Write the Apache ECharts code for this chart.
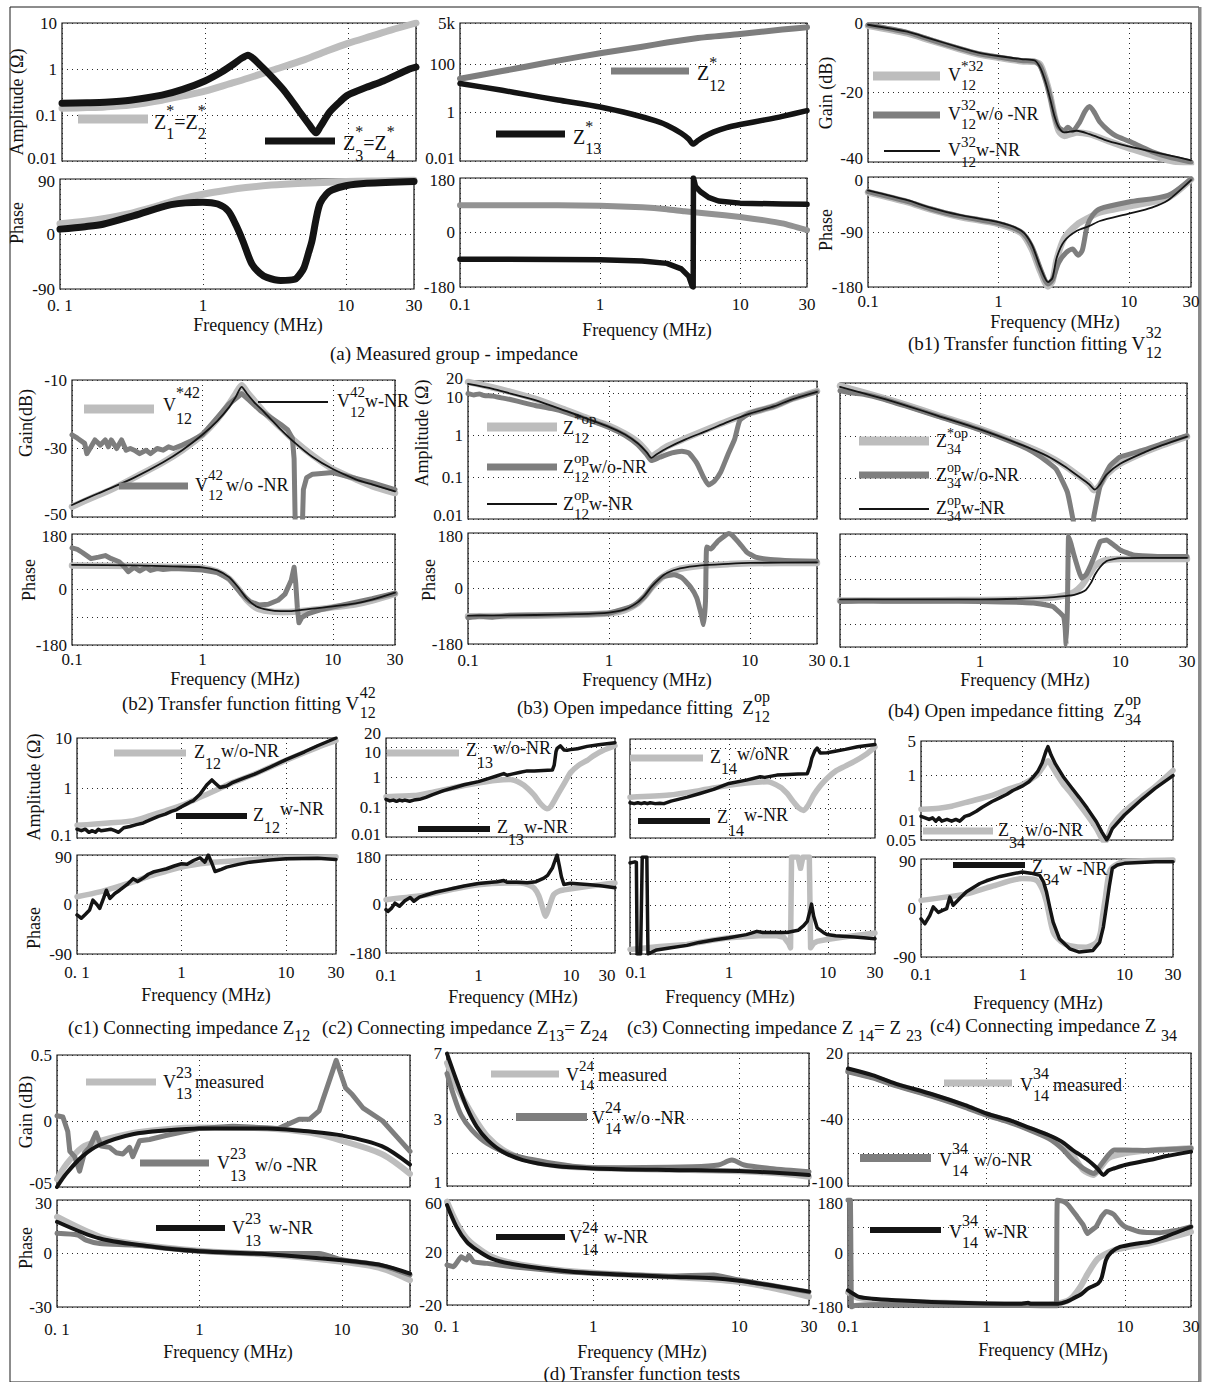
<!DOCTYPE html>
<html>
<head>
<meta charset="utf-8">
<title>Impedance and transfer function fitting</title>
<script src="https://cdn.jsdelivr.net/npm/echarts@6.0.0/dist/echarts.min.js"></script>
<style>
html,body{margin:0;padding:0;background:#fff;}
#chart{width:1209px;height:1382px;}
</style>
</head>
<body>
<div id="chart"></div>
<script>
// ================= tick labels =================
const X_TICKS = [0.1, 1, 10, 30];
const X_LAB_SPACED = ['0. 1', '1', '10', '30'];
const X_LAB = ['0.1', '1', '10', '30'];
const YL_aLa = [[0.01,'0.01'],[0.1,'0.1'],[1,'1'],[10,'10']];
const YL_aRa = [[0.01,'0.01'],[1,'1'],[100,'100'],[5000,'5k']];
const YL_90 = [[-90,'-90'],[0,'0'],[90,'90']];
const YL_180 = [[-180,'-180'],[0,'0'],[180,'180']];
const YL_b1g = [[-40,'-40'],[-20,'-20'],[0,'0']];
const YL_b1p = [[-180,'-180'],[-90,'-90'],[0,'0']];
const YL_b2g = [[-50,'-50'],[-30,'-30'],[-10,'-10']];
const YL_20d = [[0.01,'0.01'],[0.1,'0.1'],[1,'1'],[10,'10'],[20,'20']];
const YL_c1a = [[0.1,'0.1'],[1,'1'],[10,'10']];
const YL_c4a = [[0.05,'0.05'],[0.1,'01'],[1,'1'],[5,'5']];
const YL_d1g = [[-0.5,'-05'],[0,'0'],[0.5,'0.5']];
const YL_d1p = [[-30,'-30'],[0,'0'],[30,'30']];
const YL_d2g = [[-1,'1'],[3,'3'],[7,'7']];
const YL_d2p = [[-20,'-20'],[20,'20'],[60,'60']];
const YL_d3g = [[-100,'-100'],[-40,'-40'],[20,'20']];

// ================= data: [frequency MHz, value] =================
// (a) measured group - impedance
const aL_amp_Z12 = [[0.1,0.14],[0.15,0.145],[0.2,0.15],[0.3,0.165],[0.5,0.21],[0.7,0.26],[1,0.33],[1.5,0.48],[2,0.63],[3,0.95],[5,1.6],[7,2.4],[10,3.6],[15,5.3],[20,7],[30,10]];
const aL_amp_Z34 = [[0.1,0.18],[0.15,0.185],[0.2,0.19],[0.3,0.21],[0.5,0.27],[0.7,0.36],[1,0.55],[1.3,0.85],[1.6,1.3],[1.8,1.7],[2,2.0],[2.45,1.19],[3.04,0.6],[3.7,0.3],[4.6,0.118],[5.4,0.06],[6.0,0.041],[6.4,0.055],[7.5,0.118],[8.9,0.2],[10,0.27],[13.5,0.4],[17.7,0.55],[27,1.0],[30,1.1]];
const aL_ph_Z12 = [[0.1,17],[0.15,21],[0.2,25],[0.3,33],[0.5,47],[0.7,57],[1,65],[1.5,72],[2,76],[3,80],[5,83],[10,86],[20,87],[30,88]];
const aL_ph_Z34 = [[0.1,8],[0.15,12],[0.2,16],[0.33,30],[0.6,48],[1,52],[1.27,49],[1.5,38],[1.7,15],[1.9,-11],[2.2,-49],[2.5,-64],[2.8,-71],[3.5,-76],[4.4,-74],[4.8,-65],[5.1,-55],[5.5,-30],[5.8,-11],[6.2,25],[6.6,50],[7.3,65],[8,72],[10,79],[14,83],[30,86]];
const aR_amp_Z12 = [[0.1,25],[0.2,52],[0.3,80],[0.5,140],[1,280],[2,520],[3,780],[5,1200],[10,1750],[20,2700],[30,3300]];
const aR_amp_Z13 = [[0.1,16],[0.2,8.3],[0.3,5.5],[0.5,3.3],[1,1.7],[1.7,0.85],[2.5,0.45],[3,0.3],[3.8,0.14],[4.3,0.08],[4.6,0.05],[5,0.07],[5.5,0.1],[6.5,0.16],[8,0.24],[10,0.32],[15,0.5],[20,0.7],[30,1.2]];
const aR_ph_Z12 = [[0.1,90],[0.5,90],[1,88],[2,83],[3,77],[4,70],[6,62],[10,51],[15,40],[20,30],[30,8]];
const aR_ph_Z13 = [[0.1,-88],[0.5,-89],[1,-90],[2,-94],[3,-102],[3.8,-120],[4.3,-145],[4.55,-178],[4.62,-180],[4.64,180],[4.8,152],[5.2,135],[6,115],[7,104],[10,97],[20,94],[30,93]];
// (b1) V32_12
const b1_g_meas = [[0.1,-0.8],[0.2,-3],[0.3,-5],[0.5,-7.5],[0.7,-9],[1,-10],[1.5,-11],[1.9,-11.2],[2.1,-12],[2.3,-16],[2.5,-21],[2.7,-27],[2.9,-31],[3.2,-32.5],[4,-31.5],[5,-32],[7,-34],[10,-36],[15,-38],[20,-39.5],[30,-40.5]];
const b1_g_wo = [[0.1,-0.6],[0.2,-2.7],[0.3,-4.8],[0.5,-7.3],[0.7,-8.8],[1,-9.8],[1.5,-10.8],[1.9,-11],[2.1,-12.5],[2.3,-16.5],[2.5,-21.5],[2.7,-27],[2.9,-30],[3.2,-31],[3.4,-30],[3.7,-31],[4.2,-28.5],[4.6,-25.5],[5,-24],[5.5,-26],[6,-28.5],[7,-31],[8,-32.5],[10,-34],[15,-37],[20,-38.5],[30,-40]];
const b1_g_w = [[0.1,-0.5],[0.2,-2.5],[0.3,-4.5],[0.5,-7],[0.7,-8.5],[1,-9.5],[1.5,-10.4],[1.9,-10.8],[2.1,-13],[2.3,-17],[2.5,-22],[2.7,-27],[2.9,-30],[3.2,-31.5],[4,-31],[5,-32],[7,-34],[10,-35.5],[15,-37],[20,-38],[30,-39.5]];
const b1_p_meas = [[0.1,-25],[0.2,-41],[0.3,-53],[0.5,-65],[1,-77],[1.5,-92],[1.8,-118],[2.1,-155],[2.4,-179],[2.6,-170],[2.8,-135],[3.2,-100],[4,-78],[5,-66],[6,-58],[10,-48],[20,-34],[30,-4]];
const b1_p_wo = [[0.1,-24],[0.2,-40],[0.3,-52],[0.5,-64],[1,-76],[1.5,-90],[1.8,-113],[2.1,-150],[2.4,-175],[2.6,-168],[2.9,-140],[3.3,-124],[3.7,-118],[4.1,-128],[4.4,-120],[4.8,-80],[5.3,-62],[6,-52],[10,-41],[20,-30],[30,-3]];
const b1_p_w = [[0.1,-22],[0.2,-38],[0.3,-50],[0.5,-62],[1,-74],[1.5,-88],[1.8,-110],[2.1,-148],[2.4,-172],[2.6,-165],[2.8,-132],[3.2,-105],[4,-88],[5,-80],[6,-72],[10,-60],[15,-50],[20,-38],[30,-5]];
// (b2) V42_12
const b2_g_meas = [[0.1,-47],[0.15,-44],[0.2,-42],[0.3,-38.5],[0.5,-34],[0.7,-30.5],[1,-26],[1.3,-21.5],[1.6,-17],[1.8,-14],[2,-11.5],[2.2,-13.5],[2.5,-16],[3,-19.5],[4,-24],[5,-27.5],[7,-32],[10,-36],[15,-39],[20,-41],[30,-43]];
const b2_g_wo = [[0.1,-26],[0.11,-27],[0.125,-28.5],[0.13,-31.5],[0.14,-29.5],[0.15,-27.5],[0.165,-29],[0.18,-27.5],[0.19,-29.5],[0.2,-27.5],[0.22,-30],[0.24,-27.5],[0.26,-30.5],[0.28,-30],[0.3,-30.5],[0.33,-31.5],[0.37,-30.5],[0.4,-31.5],[0.45,-30],[0.5,-30.5],[0.55,-29.5],[0.6,-30],[0.7,-29],[0.8,-28],[1,-26],[1.3,-21],[1.6,-17],[2,-14],[2.3,-16],[2.8,-19],[3.5,-21.5],[4,-23],[4.5,-24.5],[4.9,-27],[5.05,-33],[5.15,-52],[5.85,-52],[5.95,-42],[6.3,-38.5],[7,-37.5],[10,-37],[20,-40],[30,-42]];
const b2_g_w = [[0.1,-46.5],[0.15,-43.5],[0.2,-41.5],[0.3,-38.5],[0.5,-34],[0.7,-30.5],[1,-26],[1.3,-22],[1.6,-18],[1.8,-15],[2,-12],[2.2,-14],[2.5,-16.5],[3,-19.5],[4,-24.5],[5,-28],[7,-32.5],[10,-36],[15,-39],[20,-40.5],[30,-42.5]];
const b2_p_meas = [[0.1,78],[0.3,76],[0.6,73],[1,70],[1.3,58],[1.6,35],[1.9,0],[2.2,-35],[2.6,-60],[3.2,-70],[4,-73],[5,-72],[7,-66],[10,-58],[15,-48],[20,-36],[30,-14]];
const b2_p_wo = [[0.1,135],[0.11,130],[0.12,120],[0.14,100],[0.16,105],[0.18,110],[0.2,100],[0.23,90],[0.25,75],[0.27,58],[0.3,72],[0.33,60],[0.37,72],[0.4,62],[0.45,68],[0.5,65],[0.6,68],[0.8,66],[1,63],[1.3,55],[1.6,35],[2,-15],[2.3,-38],[2.7,-50],[3.2,-48],[3.8,-35],[4.3,-15],[4.8,30],[5.05,72],[5.2,20],[5.35,-60],[5.5,-108],[5.8,-90],[6.5,-78],[8,-66],[10,-57],[20,-30],[30,-12]];
const b2_p_w = [[0.1,80],[0.3,78],[0.6,75],[1,72],[1.3,62],[1.6,40],[1.9,5],[2.2,-30],[2.6,-55],[3.2,-66],[4,-70],[5,-69],[7,-62],[10,-55],[15,-45],[20,-33],[30,-10]];
// (b3) Zop_12
const b3_a_meas = [[0.1,19],[0.15,14],[0.2,11],[0.3,7.5],[0.5,4],[0.7,2.6],[1,1.7],[1.3,1.1],[1.6,0.7],[1.85,0.42],[2,0.31],[2.2,0.38],[2.6,0.55],[3.5,0.85],[5,1.4],[7,2.2],[10,3.4],[15,5],[20,7.5],[30,11.5]];
const b3_a_wo = [[0.1,10],[0.11,9.3],[0.12,9.8],[0.13,9],[0.15,8.7],[0.17,8],[0.2,7.2],[0.25,6],[0.3,5.2],[0.4,4.3],[0.5,3.5],[0.7,2.4],[1,1.55],[1.3,1],[1.6,0.6],[1.85,0.35],[2,0.25],[2.3,0.3],[2.8,0.38],[3.3,0.42],[3.7,0.38],[4.2,0.22],[4.7,0.1],[5.1,0.065],[5.6,0.08],[6.2,0.13],[7,0.35],[7.8,0.8],[8.5,2.3],[10,3.4],[15,5],[20,7.5],[30,11]];
const b3_a_w = [[0.1,17],[0.15,13],[0.2,10],[0.3,7],[0.5,3.8],[0.7,2.5],[1,1.6],[1.3,1.05],[1.6,0.65],[1.85,0.4],[2,0.29],[2.2,0.36],[2.6,0.5],[3.5,0.8],[5,1.3],[7,2.1],[10,3.3],[15,5],[20,7.3],[30,11]];
const b3_p_meas = [[0.1,-90],[0.3,-88],[0.6,-85],[1,-80],[1.3,-70],[1.6,-48],[1.8,-25],[2,2],[2.3,30],[2.6,48],[3.2,64],[4.5,74],[7,79],[10,82],[30,83]];
const b3_p_wo = [[0.1,-95],[0.12,-90],[0.15,-93],[0.2,-87],[0.3,-86],[0.5,-84],[1,-80],[1.5,-55],[1.8,-25],[2.1,15],[2.4,38],[2.9,45],[3.3,35],[3.8,5],[4.2,-30],[4.5,-80],[4.7,-117],[4.85,-40],[4.95,135],[5.3,128],[5.6,140],[6,155],[6.6,170],[7.1,178],[7.6,170],[8.5,145],[9.5,118],[11,102],[14,94],[20,90],[30,88]];
const b3_p_w = [[0.1,-88],[0.3,-86],[0.6,-83],[1,-78],[1.3,-68],[1.6,-45],[1.8,-22],[2,5],[2.3,33],[2.6,51],[3.2,65],[4.5,75],[7,80],[10,83],[30,85]];
// (b4) Zop_34
const b4_a_meas = [[0.1,17],[0.2,8.8],[0.3,5.8],[0.5,3.3],[1,1.55],[2,0.64],[3,0.35],[4,0.2],[5,0.115],[6,0.07],[6.5,0.05],[7.2,0.068],[8,0.12],[10,0.22],[15,0.42],[20,0.62],[30,1.0]];
const b4_a_wo = [[0.1,13],[0.12,11.5],[0.15,10.5],[0.2,8.3],[0.3,5.4],[0.5,3.1],[1,1.45],[2,0.58],[2.4,0.42],[3,0.25],[3.5,0.16],[4.2,0.045],[4.6,0.01],[4.8,0.006],[6.3,0.006],[6.5,0.012],[7.2,0.064],[8.4,0.19],[10,0.32],[15,0.48],[20,0.68],[30,1.05]];
const b4_a_w = [[0.1,16],[0.2,8.5],[0.3,5.6],[0.5,3.2],[1,1.5],[2,0.62],[3,0.34],[4,0.19],[5,0.11],[6,0.07],[6.6,0.052],[7.2,0.07],[8,0.12],[10,0.22],[15,0.42],[20,0.62],[30,1.0]];
const b4_p_meas = [[0.1,-32],[0.5,-31],[1,-30],[2,-28],[3,-24],[4,-16],[4.7,-5],[5.3,15],[5.7,35],[6.2,60],[6.6,78],[7.2,90],[8,97],[10,100],[15,100],[30,100]];
const b4_p_wo = [[0.1,-35],[0.15,-33],[0.2,-34],[0.5,-34],[1,-35],[2,-38],[2.4,-40],[3.3,-51],[3.94,-83],[4.05,-120],[4.11,-173],[4.2,-60],[4.28,172],[4.45,150],[4.64,119],[5.0,70],[5.3,39],[5.7,50],[6.1,76],[6.7,120],[7.2,156],[8,161],[9,145],[10,129],[12.4,113],[20,108],[30,108]];
const b4_p_w = [[0.1,-28],[0.5,-28],[1,-28],[2,-26],[3,-23],[4,-18],[4.7,-14],[5.3,-6],[5.7,2],[6.2,25],[6.6,50],[7.2,75],[8,94],[9,100],[10,103],[15,104],[30,104]];
// (c1) Z12
const c1_a_wo = [[0.1,0.18],[0.15,0.19],[0.2,0.2],[0.34,0.22],[0.5,0.28],[0.7,0.35],[1,0.45],[1.5,0.65],[2,0.85],[3,1.25],[5,1.9],[10,3.6],[20,6.5],[30,8.8]];
const c1_a_w = [[0.1,0.15],[0.11,0.14],[0.12,0.15],[0.13,0.13],[0.14,0.14],[0.15,0.13],[0.16,0.15],[0.17,0.14],[0.19,0.145],[0.21,0.15],[0.23,0.14],[0.25,0.13],[0.28,0.16],[0.32,0.17],[0.37,0.185],[0.43,0.2],[0.5,0.23],[0.6,0.27],[0.7,0.3],[0.8,0.34],[0.9,0.37],[1,0.42],[1.1,0.47],[1.2,0.52],[1.3,0.56],[1.5,0.75],[1.74,1.15],[1.95,1.45],[2.1,1.25],[2.33,1.02],[2.7,1.1],[3.1,1.3],[4,1.6],[5,1.9],[7,2.6],[10,3.7],[15,5.3],[20,7],[30,10]];
const c1_p_wo = [[0.1,14],[0.165,23],[0.25,33],[0.344,41],[0.5,52],[0.7,60],[1,68],[1.5,74],[2,77],[3.1,79],[5,82],[10,85],[20,86],[30,87]];
const c1_p_w = [[0.1,-19],[0.11,-25],[0.12,-18],[0.132,-10],[0.142,8],[0.155,0],[0.165,-7],[0.18,12],[0.191,26],[0.206,11],[0.23,20],[0.256,26],[0.3,36],[0.344,47],[0.38,42],[0.43,48],[0.48,55],[0.535,59],[0.62,62],[0.72,65],[0.85,70],[1,74],[1.13,73],[1.3,80],[1.5,85],[1.67,77],[1.8,90],[1.95,75],[2.09,60],[2.4,64],[2.7,68],[3.5,73],[4.5,77],[7,81],[10,83],[20,84],[30,82]];
// (c2) Z13 = Z24
const c2_a_wo = [[0.1,0.22],[0.2,0.24],[0.3,0.3],[0.5,0.42],[0.7,0.52],[1,0.63],[1.5,0.76],[2.2,0.82],[2.84,0.63],[3.4,0.42],[4,0.25],[4.6,0.14],[5.1,0.1],[5.5,0.087],[6,0.1],[6.6,0.16],[7.2,0.26],[8,0.45],[9,0.85],[9.9,1.4],[12,2.4],[15,3.6],[17.7,5.2],[22,7.5],[30,11]];
const c2_a_w = [[0.1,0.18],[0.11,0.16],[0.12,0.17],[0.13,0.155],[0.14,0.17],[0.15,0.16],[0.16,0.17],[0.18,0.155],[0.2,0.17],[0.23,0.18],[0.27,0.21],[0.32,0.26],[0.42,0.35],[0.54,0.44],[0.7,0.55],[1,0.7],[1.3,0.9],[1.6,1.1],[1.88,1.3],[2.04,1.15],[2.3,1.25],[2.84,1.45],[3.37,1.6],[4,1.6],[5,1.65],[6.3,1.7],[6.6,2.5],[6.9,7],[7.1,9],[7.7,11],[8.4,8],[9.1,7.8],[9.9,8.2],[11.8,8.8],[15,10.5],[20,12],[30,14]];
const c2_p_wo = [[0.1,16],[0.28,34],[0.5,52],[1,71],[2,77],[2.84,77],[3.5,70],[4,58],[4.5,30],[5,-20],[5.3,-45],[5.7,-20],[6.5,34],[7.5,48],[8.5,52],[12,60],[20,70],[30,77]];
const c2_p_w = [[0.1,-21],[0.105,-27],[0.115,-15],[0.125,3],[0.14,-8],[0.16,12],[0.183,24],[0.2,10],[0.23,25],[0.278,34],[0.35,44],[0.45,52],[0.54,58],[0.7,66],[1,75],[1.3,79],[1.6,82],[1.88,86],[2.04,80],[2.6,80],[3.37,78],[4.2,82],[5.1,95],[5.6,105],[6.3,132],[6.9,170],[7.1,180],[7.5,140],[7.9,100],[8.4,72],[9.9,76],[15,72],[20,68],[30,60]];
// (c3) Z14 = Z23
const c3_a_wo = [[0.1,0.23],[0.25,0.27],[0.5,0.38],[1,0.57],[1.5,0.68],[2.44,0.75],[3.3,0.5],[3.9,0.3],[4.5,0.16],[5.1,0.1],[5.7,0.083],[6.3,0.12],[7.2,0.27],[8.4,0.55],[9.8,0.97],[12,1.7],[15,2.5],[18.4,3.5],[24,6],[30,10.8]];
const c3_a_w = [[0.1,0.15],[0.11,0.14],[0.12,0.15],[0.13,0.14],[0.14,0.15],[0.15,0.14],[0.16,0.15],[0.18,0.14],[0.2,0.145],[0.22,0.14],[0.26,0.17],[0.3,0.19],[0.38,0.23],[0.5,0.3],[0.7,0.42],[1,0.66],[1.5,0.85],[2.07,1.1],[2.3,1.05],[3.06,1.25],[4,1.3],[5,1.35],[6.2,1.4],[6.6,2.5],[6.9,4.6],[7.4,8],[7.8,10],[8.4,6.8],[9.8,7],[11.5,7.7],[15,9],[20,11],[30,13]];
const c3_p_wo = [[0.1,-163],[0.2,-152],[0.376,-145],[0.7,-128],[1,-120],[2,-112],[3,-112],[3.6,-118],[4.0,-140],[4.2,-157],[4.3,180],[5.0,180],[5.3,138],[5.6,180],[6.5,180],[6.7,-157],[7.2,-140],[7.8,-133],[9.8,-126],[20,-110],[30,-102]];
const c3_p_w = [[0.1,158],[0.112,162],[0.116,160],[0.118,-180],[0.128,-180],[0.133,180],[0.148,180],[0.152,-180],[0.162,-175],[0.186,-165],[0.25,-158],[0.376,-148],[0.5,-137],[0.7,-128],[1,-120],[1.5,-108],[1.92,-96],[2.2,-100],[3,-100],[3.87,-100],[5,-92],[5.7,-75],[6.2,-59],[6.6,-20],[6.85,5],[7.2,-40],[7.8,-83],[9,-100],[9.8,-108],[12,-112],[20,-118],[30,-123]];
// (c4) Z34
const c4_a_wo = [[0.1,0.21],[0.15,0.22],[0.2,0.24],[0.3,0.3],[0.5,0.4],[0.7,0.52],[1,0.67],[1.36,1.0],[1.55,1.4],[1.77,2.0],[1.95,1.5],[2.2,1.0],[2.5,0.67],[3,0.43],[3.6,0.26],[4.5,0.14],[5.3,0.085],[6.1,0.05],[6.5,0.046],[7,0.065],[7.6,0.1],[10,0.19],[16,0.42],[20,0.6],[30,1.27]];
const c4_a_w = [[0.1,0.15],[0.11,0.14],[0.12,0.13],[0.13,0.14],[0.14,0.12],[0.15,0.14],[0.16,0.12],[0.18,0.13],[0.2,0.12],[0.22,0.13],[0.24,0.12],[0.27,0.15],[0.3,0.16],[0.35,0.19],[0.4,0.23],[0.5,0.3],[0.6,0.36],[0.7,0.42],[0.8,0.5],[1,0.62],[1.15,0.75],[1.26,0.92],[1.4,1.2],[1.55,1.8],[1.7,3.2],[1.77,3.85],[1.9,2.6],[2.1,1.7],[2.5,0.95],[3,0.58],[3.6,0.36],[4.3,0.22],[5.3,0.117],[6,0.072],[6.7,0.05],[7.1,0.062],[7.6,0.085],[10,0.16],[15,0.34],[20,0.55],[30,1.0]];
const c4_p_wo = [[0.1,14],[0.28,26],[0.5,40],[0.99,54],[1.36,51],[1.55,35],[1.71,11],[1.99,-44],[2.4,-62],[2.9,-69],[4.2,-72],[5.3,-63],[5.8,-45],[6.1,-14],[6.5,20],[7.1,66],[8,78],[10,85],[30,88]];
const c4_p_w = [[0.1,-20],[0.109,-29],[0.122,-14],[0.132,2],[0.148,-8],[0.165,-4],[0.179,-1],[0.192,20],[0.207,5],[0.241,18],[0.28,30],[0.33,38],[0.379,45],[0.44,50],[0.51,54],[0.6,58],[0.8,63],[0.99,66],[1.2,64],[1.47,60],[1.6,48],[1.71,30],[1.85,0],[1.99,-26],[2.3,-57],[2.9,-75],[3.6,-81],[4.9,-78],[5.7,-63],[6.2,-35],[6.6,-1],[7.1,40],[7.6,73],[8.5,79],[10,82],[20,85],[30,85]];
// (d) transfer function tests
const d1_g_meas = [[0.1,-0.44],[0.116,-0.33],[0.15,-0.2],[0.2,-0.15],[0.34,-0.09],[0.6,-0.06],[1,-0.05],[3,-0.056],[6,-0.09],[10,-0.15],[19,-0.25],[30,-0.4]];
const d1_g_wo = [[0.1,0.04],[0.11,0.03],[0.119,-0.08],[0.123,-0.23],[0.133,-0.27],[0.144,-0.38],[0.156,-0.24],[0.169,-0.2],[0.188,-0.09],[0.204,-0.19],[0.234,-0.2],[0.26,-0.24],[0.29,-0.25],[0.323,-0.2],[0.34,-0.27],[0.38,-0.15],[0.446,-0.14],[0.58,-0.11],[1,-0.056],[1.71,-0.04],[3.6,-0.056],[5,0.013],[5.9,0.013],[6.9,0.076],[8.6,0.38],[9.1,0.46],[10.6,0.25],[11.8,0.2],[14,0.1],[19.3,0],[30,-0.23]];
const d1_g_w = [[0.1,-0.5],[0.116,-0.4],[0.15,-0.27],[0.2,-0.18],[0.34,-0.1],[0.6,-0.07],[1,-0.056],[3,-0.056],[6,-0.08],[10,-0.11],[19,-0.19],[30,-0.33]];
const d1_p_meas = [[0.1,20.6],[0.2,9.4],[0.34,5.6],[1,1.5],[3,-0.6],[10,-4.7],[19,-8.4],[30,-15]];
const d1_p_wo = [[0.1,11.3],[0.14,10.3],[0.16,7.5],[0.2,5.6],[0.34,4.7],[1,1.3],[3,0],[6.9,0],[10,-3.5],[19,-6.8],[30,-12]];
const d1_p_w = [[0.1,17.8],[0.2,8.4],[0.5,3.5],[1,1.3],[3,-0.4],[10,-3.8],[19,-6.6],[30,-11.3]];
const d2_g_meas = [[0.1,6.4],[0.116,5.0],[0.136,3.9],[0.16,2.86],[0.19,1.96],[0.24,1.2],[0.33,0.65],[0.55,0.25],[1,0.08],[3.3,-0.02],[10,-0.12],[20,-0.26],[30,-0.44]];
const d2_g_wo = [[0.1,5.76],[0.111,4.46],[0.125,3.26],[0.148,2.36],[0.188,1.56],[0.282,0.86],[0.635,0.26],[1,0.1],[4.8,0.16],[7.2,0.26],[8.9,0.56],[10.8,0.26],[16.2,0.06],[30,-0.14]];
const d2_g_w = [[0.1,6.96],[0.116,5.36],[0.136,3.76],[0.16,2.56],[0.19,1.76],[0.24,1.06],[0.33,0.56],[0.55,0.2],[1,0.06],[3.3,-0.04],[10,-0.1],[30,-0.34]];
const d2_p_meas = [[0.1,58.7],[0.116,43],[0.136,31],[0.16,24],[0.2,17],[0.28,12],[0.55,7],[1,4.5],[3.3,1.5],[6.7,-0.5],[10,-2.5],[16,-6.5],[30,-13.7]];
const d2_p_wo = [[0.1,10.5],[0.111,9.2],[0.125,16.8],[0.136,14.3],[0.141,18],[0.152,13],[0.188,11.7],[0.28,9.2],[0.635,5.4],[1,4.2],[3.3,2],[6.7,2.9],[10,-1],[16,-4.8],[30,-10]];
const d2_p_w = [[0.1,56.2],[0.116,39.7],[0.136,28.3],[0.16,21.9],[0.2,15.6],[0.28,11.3],[0.55,6.7],[1,4.2],[3.3,1.6],[6.7,0.3],[10,-1.5],[16,-4.8],[30,-9.8]];
const d3_g_meas = [[0.1,4],[0.15,-1.5],[0.22,-8.5],[0.4,-18],[0.7,-28],[1,-35.5],[1.5,-42],[2,-48],[2.8,-55],[3.5,-62],[4.2,-72],[5,-85.6],[5.9,-90],[6.5,-85],[7.6,-75],[10,-70.6],[15,-68],[30,-66]];
const d3_g_wo = [[0.1,3],[0.15,-2.5],[0.22,-9.5],[0.4,-19],[0.7,-29],[1,-36],[1.5,-43],[2,-49],[2.8,-57],[3.5,-66],[4.2,-76.6],[5,-84],[6,-88.7],[6.6,-82],[7.6,-72],[8.4,-67.6],[10,-67.6],[15,-68],[20,-67],[30,-66]];
const d3_g_w = [[0.1,6],[0.15,0],[0.22,-7.6],[0.4,-17],[0.7,-27],[1,-34.6],[1.5,-41],[2,-47],[2.8,-54],[3.5,-60],[4.2,-67.6],[5.4,-76.6],[6.3,-84],[7,-90],[7.6,-86],[8.4,-84],[10,-81],[15,-76.6],[20,-73],[30,-69]];
const d3_p_meas = [[0.1,-130],[0.12,-150],[0.2,-160],[0.5,-166],[1,-170],[2,-171],[3,-170],[3.8,-160],[4.2,-146],[4.8,-110],[5.4,-67],[6.4,-17],[8.3,11],[10,20],[15,34],[20,50],[30,73]];
const d3_p_wo = [[0.1,180],[0.104,180],[0.106,-180],[0.112,-175],[0.2,-172],[0.5,-174],[1,-175],[2,-175],[3.1,-176],[3.2,-176],[3.25,180],[3.6,175],[3.9,163],[4.5,125],[5,96],[5.35,67],[5.8,80],[6.2,90],[6.8,125],[7.3,141],[8,136],[8.4,129],[9.2,105],[10,90],[12.7,73],[17.9,70],[24,78],[30,90]];
const d3_p_w = [[0.1,-124],[0.12,-146],[0.15,-152],[0.22,-157],[0.4,-163],[1,-168],[1.8,-169],[2,-166],[2.1,-169],[3.3,-169],[3.8,-162],[4.2,-152],[4.8,-138],[5.4,-118],[6.4,-101],[6.8,-80],[7.3,-22],[8,5],[9.2,22],[12,33],[15,39],[20,58],[30,90]];

// ================= styling & layout =================
const FONT = '"Liberation Serif","Times New Roman",Times,serif';
const INK = '#111';
const DOT = '#2a2a2a';
const LBL = 17;
const LG = '#bdbdbd', MG = '#7e7e7e', MG2 = '#939393', BK = '#141414';

function near(v, k) { return k === 0 ? Math.abs(v) < 1e-9 : Math.abs(v / k - 1) < 1e-3; }
function keyOf(dy, dx) { return 's' + (dy < 0 ? 'u' + (-dy) : 'd' + dy) + (dx < 0 ? 'l' + (-dx) : 'r' + dx); }
function padOf(dy, dx) { return [dy > 0 ? 2 * dy : 0, dx < 0 ? -2 * dx : 0, dy < 0 ? -2 * dy : 0, dx > 0 ? 2 * dx : 0]; }
// shifts: [[value, dy, dx]] - label nudges (style only)
function mkFmt(pairs, shifts) {
  return function (v) {
    for (const p of pairs) if (near(v, p[0])) {
      const sh = (shifts || []).find(s => near(v, s[0]));
      if (sh) return '{' + keyOf(sh[1] || 0, sh[2] || 0) + '|' + p[1] + '}';
      return p[1];
    }
    return '';
  };
}
function mkRich(shifts) {
  const r = {};
  (shifts || []).forEach(s => {
    r[keyOf(s[1] || 0, s[2] || 0)] = {padding: padOf(s[1] || 0, s[2] || 0), fontSize: LBL, fontFamily: FONT, color: INK};
  });
  return r;
}
const XP_SP = X_TICKS.map((t, i) => [t, X_LAB_SPACED[i]]);
const XP = X_TICKS.map((t, i) => [t, X_LAB[i]]);

// panel: g=[left,top,right,bottom]; y axis; x labels; series [data,color,width,smooth]
const P = [
  {g:[62,23,416,161], y:{log:1,min:0.01,max:10,lab:YL_aLa,sh:[[0.01,-3]]}, s:[[aL_amp_Z12,LG,7,0.3],[aL_amp_Z34,BK,7,0.25]]},
  {g:[60,179,414,289], y:{min:-90,max:90,iv:90,lab:YL_90,sh:[[90,2]]}, x:XP_SP, xm:8, s:[[aL_ph_Z12,LG,7,0.3],[aL_ph_Z34,BK,7,0.3]]},
  {g:[460,23,807,161], y:{log:1,min:0.01,max:5000,lab:YL_aRa,sc:2,sh:[[0.01,-3]]}, s:[[aR_amp_Z12,MG,6,0.2],[aR_amp_Z13,BK,5.5,0.25]]},
  {g:[460,178,807,287], y:{min:-180,max:180,iv:90,lab:YL_180,sh:[[180,2]]}, x:XP, xm:9, s:[[aR_ph_Z12,MG2,6,0.2],[aR_ph_Z13,BK,5.5,0]]},
  {g:[868,23,1191,162], y:{min:-40,max:0,iv:20,lab:YL_b1g,sh:[[-40,-4]]}, s:[[b1_g_meas,LG,6.5,0.25],[b1_g_wo,MG,5,0.25],[b1_g_w,BK,1.8,0.25]]},
  {g:[868,177,1191,287], y:{min:-180,max:0,iv:90,lab:YL_b1p,sh:[[0,3]]}, x:XP, xm:6, s:[[b1_p_meas,LG,6.5,0.25],[b1_p_wo,MG,5,0.25],[b1_p_w,BK,1.8,0.25]]},
  {g:[72,380,395,517], y:{min:-50,max:-10,iv:10,lab:YL_b2g,sc:2,sh:[[-50,-3]]}, s:[[b2_g_meas,LG,6.5,0.25],[b2_g_wo,MG,5,0],[b2_g_w,BK,1.8,0.25]]},
  {g:[72,534,395,645], y:{min:-180,max:180,iv:90,lab:YL_180,sh:[[180,2]]}, x:XP, xm:6, s:[[b2_p_meas,LG,6.5,0.25],[b2_p_wo,MG,5,0],[b2_p_w,BK,1.8,0.25]]},
  {g:[468,381,817,519], y:{log:1,min:0.01,max:20,lab:YL_20d,sh:[[0.01,-4],[20,-3],[10,4]]}, s:[[b3_a_meas,LG,6.5,0.25],[b3_a_wo,MG,5,0.15],[b3_a_w,BK,1.8,0.25]]},
  {g:[468,533,817,644], y:{min:-180,max:180,iv:90,lab:YL_180,sh:[[180,3]]}, x:XP, xm:8, s:[[b3_p_meas,LG,6.5,0.25],[b3_p_wo,MG,5,0.15],[b3_p_w,BK,1.8,0.25]]},
  {g:[840,383,1187,519], y:{log:1,min:0.01,max:20}, s:[[b4_a_meas,LG,6.5,0.25],[b4_a_wo,MG,5,0.15],[b4_a_w,BK,1.8,0.25]]},
  {g:[840,534,1187,647], y:{min:-180,max:180,iv:36,sc:2}, x:XP, xm:6, s:[[b4_p_meas,LG,6.5,0.25],[b4_p_wo,MG,5,0.1],[b4_p_w,BK,1.8,0.25]]},
  {g:[77,738,336,838], y:{log:1,min:0.1,max:10,lab:YL_c1a,sh:[[0.1,-3]]}, s:[[c1_a_wo,LG,5.5,0.25],[c1_a_w,BK,3.5,0]]},
  {g:[77,855,336,954], y:{min:-90,max:90,iv:90,lab:YL_90,sh:[[90,2]]}, x:XP_SP, xm:10, s:[[c1_p_wo,LG,5.5,0.25],[c1_p_w,BK,3.5,0]]},
  {g:[386,738,615,837], y:{log:1,min:0.01,max:20,lab:YL_20d,sh:[[0.01,-3],[20,-5],[10,5]]}, s:[[c2_a_wo,LG,5.5,0.25],[c2_a_w,BK,3.5,0]]},
  {g:[386,855,615,953], y:{min:-180,max:180,iv:90,lab:YL_180,sh:[[180,2]]}, x:XP, xm:14, xsh:[[30,0,-8]], s:[[c2_p_wo,LG,5.5,0.25],[c2_p_w,BK,3.5,0]]},
  {g:[630,739,875,838], y:{log:1,min:0.01,max:20}, s:[[c3_a_wo,LG,5.5,0.25],[c3_a_w,BK,3.5,0]]},
  {g:[630,857,875,954], y:{min:-180,max:180,iv:90}, x:XP, xm:10, xsh:[[0.1,0,6]], s:[[c3_p_wo,LG,5.5,0],[c3_p_w,BK,3.5,0]]},
  {g:[921,741,1173,840], y:{log:1,min:0.05,max:5,lab:YL_c4a,sh:[[0.1,-5]]}, s:[[c4_a_wo,LG,5.5,0.25],[c4_a_w,BK,3.5,0]]},
  {g:[921,859,1173,957], y:{min:-90,max:90,iv:90,lab:YL_90,sh:[[90,2]]}, x:XP, xm:9, s:[[c4_p_wo,LG,5.5,0.25],[c4_p_w,BK,3.5,0]]},
  {g:[57,1055,410,1187], y:{min:-0.5,max:0.5,iv:0.5,lab:YL_d1g,sh:[[-0.5,-4]]}, s:[[d1_g_meas,LG,6,0.3],[d1_g_wo,MG,5,0],[d1_g_w,BK,4,0.3]]},
  {g:[57,1200,410,1307], y:{min:-30,max:30,iv:30,lab:YL_d1p,sh:[[30,3]]}, x:XP_SP, xm:14, s:[[d1_p_meas,LG,6,0.3],[d1_p_wo,MG,5,0.2],[d1_p_w,BK,4,0.3]]},
  {g:[447,1053,809,1186], y:{min:-1,max:7,iv:1,lab:YL_d2g,sc:2,sh:[[-1,-4]]}, s:[[d2_g_meas,LG,6,0.3],[d2_g_wo,MG,5,0.3],[d2_g_w,BK,4,0.3]]},
  {g:[447,1200,809,1305], y:{min:-20,max:60,iv:20,lab:YL_d2p,sh:[[60,3]]}, x:XP_SP, xm:13, s:[[d2_p_meas,LG,6,0.3],[d2_p_wo,MG,5,0.1],[d2_p_w,BK,4,0.3]]},
  {g:[848,1053,1191,1186], y:{min:-100,max:20,iv:10,lab:YL_d3g,sc:3,sh:[[-100,-4]]}, s:[[d3_g_meas,LG,6,0.25],[d3_g_wo,MG,5,0.25],[d3_g_w,BK,4,0.25]]},
  {g:[848,1200,1191,1307], y:{min:-180,max:180,iv:90,lab:YL_180,sh:[[180,3]]}, x:XP, xm:11, s:[[d3_p_meas,LG,6,0.25],[d3_p_wo,MG,5,0.1],[d3_p_w,BK,4,0.2]]}
];

const grids = [], xAxes = [], yAxes = [], series = [];
P.forEach((p, i) => {
  const [L, T, R, B] = p.g;
  grids.push({left: L, top: T, width: R - L, height: B - T, show: true, backgroundColor: '#fff',
    borderColor: '#111', borderWidth: 1.2, containLabel: false, outerBoundsMode: 'none'});
  const lblBase = {color: INK, fontFamily: FONT, fontSize: LBL, showMinLabel: true, showMaxLabel: true, hideOverlap: false};
  xAxes.push({type: 'log', logBase: 10, gridIndex: i, min: 0.1, max: 30,
    axisLine: {show: false}, axisTick: {show: false},
    splitLine: {show: true, lineStyle: {color: DOT, width: 1, type: [1, 4]}},
    axisLabel: p.x ? Object.assign({show: true, formatter: mkFmt(p.x, p.xsh), rich: mkRich(p.xsh), margin: p.xm}, lblBase) : {show: false}});
  const y = p.y, period = y.sc || 1;
  const cols = [DOT].concat(Array(period - 1).fill('rgba(0,0,0,0)'));
  const ya = {gridIndex: i, min: y.min, max: y.max, axisLine: {show: false}, axisTick: {show: false},
    splitLine: {show: true, lineStyle: {color: period > 1 ? cols : DOT, width: 1, type: [1, 4]}},
    axisLabel: y.lab ? Object.assign({show: true, formatter: mkFmt(y.lab, y.sh), rich: mkRich(y.sh), margin: 5}, lblBase) : {show: false}};
  if (y.log) { ya.type = 'log'; ya.logBase = 10; } else { ya.type = 'value'; ya.interval = y.iv; }
  yAxes.push(ya);
  p.s.forEach(([data, color, w, sm]) => {
    series.push({type: 'line', xAxisIndex: i, yAxisIndex: i, data: data, symbol: 'none', showSymbol: false,
      smooth: sm || false, silent: true, clip: true, animation: false,
      lineStyle: {color: color, width: w, cap: 'round', join: 'round'}});
  });
});

// ================= text helpers =================
const mctx = document.createElement('canvas').getContext('2d');
function tw(s, size) { mctx.font = size + 'px ' + FONT; return mctx.measureText(s).width; }
function T(x, y, s, size) {
  return {type: 'text', x: x, y: y, z: 100, silent: true,
    style: {text: s, font: size + 'px ' + FONT, fill: INK, align: 'left', verticalAlign: 'middle'}};
}
function rt(x, y, toks, o) {
  o = o || {};
  const S = o.size || 18, s = o.ss || 15;
  const dsup = o.dsup != null ? o.dsup : -9, dsub = o.dsub != null ? o.dsub : 10;
  const items = []; let cx = 0;
  toks.forEach(t => {
    if (typeof t === 'string') t = {t: t};
    if (t.t != null) { cx += (t.dx || 0); items.push([cx, t.dy || 0, t.t, S]); cx += tw(t.t, S); }
    else {
      let w = 0;
      if (t.sup) { items.push([cx, dsup, t.sup, s]); w = Math.max(w, tw(t.sup, s)); }
      if (t.sub) { items.push([cx, dsub, t.sub, s]); w = Math.max(w, tw(t.sub, s)); }
      cx += w;
    }
  });
  const off = o.align === 'center' ? -cx / 2 : 0;
  return items.map(it => T(x + off + it[0], y + it[1], it[2], it[3]));
}
function seg(x1, x2, y, color, w) {
  return {type: 'line', z: 100, silent: true, shape: {x1: x1, y1: y, x2: x2, y2: y}, style: {stroke: color, lineWidth: w}};
}
function vt(x, y, s) {
  return {type: 'text', x: x, y: y, rotation: Math.PI / 2, z: 100, silent: true,
    style: {text: s, font: '18px ' + FONT, fill: INK, align: 'center', verticalAlign: 'middle'}};
}

const G = [];
// outer frame
G.push({type: 'rect', z: 0, silent: true, shape: {x: 10, y: 7, width: 1189, height: 1375}, style: {fill: 'none', stroke: '#1a1a1a', lineWidth: 1}});
G.push({type: 'line', z: 0, silent: true, shape: {x1: 1200, y1: 7, x2: 1200, y2: 1382}, style: {stroke: '#8a8a8a', lineWidth: 3}});

// x axis titles
[[258,325],[647,330],[1055,322],[235,679],[647,680],[1025,680],[206,995],[513,997],[730,997],[1038,1003],[228,1352],[642,1352]]
  .forEach(([x, y]) => G.push(...rt(x, y, ['Frequency (MHz)'], {align: 'center'})));
G.push(...rt(1043, 1350, ['Frequency (MHz', {sub: ')'}], {align: 'center', ss: 18, dsub: 5}));

// y axis titles
G.push(vt(17,102,'Amplitude (Ω)'), vt(17,223,'Phase'));
G.push(vt(826,93,'Gain (dB)'), vt(826,230,'Phase'));
G.push(vt(26,423,'Gain(dB)'), vt(29,580,'Phase'));
G.push(vt(422,433,'Amplitude (Ω)'), vt(429,580,'Phase'));
G.push(vt(34,787,'Amplitude (Ω)'), vt(34,928,'Phase'));
G.push(vt(26,1112,'Gain (dB)'), vt(26,1248,'Phase'));

// captions
const CAP = {size: 19, ss: 16, dsup: -11, dsub: 9};
G.push(...rt(330, 353, ['(a) Measured group - impedance'], CAP));
G.push(...rt(908, 343, ['(b1) Transfer function fitting V', {sup: '32', sub: '12'}], CAP));
G.push(...rt(122, 703, ['(b2) Transfer function fitting V', {sup: '42', sub: '12'}], CAP));
G.push(...rt(517, 707, ['(b3) Open impedance fitting  Z', {sup: 'op', sub: '12'}], CAP));
G.push(...rt(888, 710, ['(b4) Open impedance fitting  Z', {sup: 'op', sub: '34'}], CAP));
G.push(...rt(68, 1027, ['(c1) Connecting impedance Z', {sub: '12'}], {size: 19, ss: 16, dsub: 8}));
G.push(...rt(322, 1027, ['(c2) Connecting impedance Z', {sub: '13'}, '= Z', {sub: '24'}], {size: 19, ss: 16, dsub: 8}));
G.push(...rt(627, 1027, ['(c3) Connecting impedance Z ', {sub: '14'}, '= Z ', {sub: '23'}], {size: 19, ss: 16, dsub: 8}));
G.push(...rt(930, 1025, ['(c4) Connecting impedance Z ', {sub: '34'}], {size: 19, ss: 16, dsub: 10}));
G.push(...rt(642, 1373, ['(d) Transfer function tests'], {size: 19, align: 'center'}));

// legends (sample line + label)
const A = {size: 20, ss: 16};
// (a)
G.push(seg(78,148,119,LG,9), ...rt(154,122,['Z',{sup:'*',sub:'1'},'=Z',{sup:'*',sub:'2'}],Object.assign({dsup:-12,dsub:11},A)));
G.push(seg(265,335,141,BK,7), ...rt(343,143,['Z',{sup:'*',sub:'3'},'=Z',{sup:'*',sub:'4'}],Object.assign({dsup:-12,dsub:12},A)));
G.push(seg(611,689,71,MG,7), ...rt(697,73,['Z',{sup:'*',sub:'12'}],Object.assign({dsup:-11,dsub:12},A)));
G.push(seg(496,565,134,BK,7), ...rt(573,137,['Z',{sup:'*',sub:'13'}],Object.assign({dsup:-11,dsub:11},A)));
// (b1)
G.push(seg(873,940,76,LG,9), ...rt(948,75,['V',{sup:'*32',sub:'12'}],{ss:15,dsup:-9,dsub:10}));
G.push(seg(873,940,115,MG,7), ...rt(948,114,['V',{sup:'32',sub:'12'},'w/o -NR'],{ss:15,dsup:-9,dsub:10}));
G.push(seg(884,940,151,BK,2), ...rt(948,150,['V',{sup:'32',sub:'12'},'w-NR'],{ss:15,dsup:-8,dsub:12}));
// (b2)
G.push(seg(84,154,409,LG,9), ...rt(163,405,['V',{sup:'*42',sub:'12'}],{ss:16,dsup:-13,dsub:13}));
G.push(seg(258,328,402,BK,2), ...rt(337,401,['V',{sup:'42',sub:'12'},'w-NR'],{ss:15,dsup:-9,dsub:11}));
G.push(seg(119,188,486,MG,7), ...rt(195,485,['V',{sup:'42',sub:'12'},{t:'w/o -NR',dx:3}],{ss:15,dsup:-10,dsub:10}));
// (b3)
G.push(seg(487,557,427,LG,9), ...rt(563,428,['Z',{sup:'*op',sub:'12'}],{ss:15,dsup:-9,dsub:10}));
G.push(seg(487,557,467,MG,7), ...rt(563,467,['Z',{sup:'op',sub:'12'},'w/o-NR'],{ss:15,dsup:-9,dsub:10}));
G.push(seg(487,557,504,BK,2), ...rt(563,504,['Z',{sup:'op',sub:'12'},'w-NR'],{ss:15,dsup:-9,dsub:10}));
// (b4)
G.push(seg(859,929,441,LG,9), ...rt(936,441,['Z',{sup:'*op',sub:'34'}],{ss:14,dsup:-8,dsub:8}));
G.push(seg(859,929,475,MG,7), ...rt(936,475,['Z',{sup:'op',sub:'34'},'w/o-NR'],{ss:14,dsup:-8,dsub:8}));
G.push(seg(859,929,509,BK,2), ...rt(936,508,['Z',{sup:'op',sub:'34'},'w-NR'],{ss:14,dsup:-8,dsub:8}));
// (c)
G.push(seg(114,186,753,LG,7), ...rt(194,752,['Z',{sub:'12'},{t:'w/o-NR',dy:-1}],{ss:16,dsub:11}));
G.push(seg(176,247,816,BK,6), ...rt(253,815,['Z',{sub:'12'},{t:'w-NR',dy:-6}],{ss:16,dsub:12}));
G.push(seg(387,459,753,LG,7), ...rt(466,750,['Z',{sub:'13'},{t:'w/o-NR',dy:-2}],{ss:16,dsub:12}));
G.push(seg(418,490,829,BK,6), ...rt(497,827,['Z',{sub:'13'},'w-NR'],{ss:16,dsub:12}));
G.push(seg(630,703,758,LG,7), ...rt(710,757,['Z',{sub:'14'},{t:'w/oNR',dy:-3}],{ss:16,dsub:11}));
G.push(seg(638,710,821,BK,6), ...rt(717,817,['Z',{sub:'14'},{t:'w-NR',dy:-2}],{ss:16,dsub:13}));
G.push(seg(923,993,831,LG,7), ...rt(998,830,['Z',{sub:'34'},'w/o-NR'],{ss:16,dsub:12}));
G.push(seg(953,1025,865,BK,6), ...rt(1032,867,['Z',{sub:'34'},{t:'w -NR',dy:2}],{ss:16,dsub:12}));
// (d)
G.push(seg(86,156,1082,LG,7), ...rt(163,1082,['V',{sup:'23',sub:'13'},{t:'measured',dx:3}],{ss:16,dsup:-10,dsub:11}));
G.push(seg(140,209,1163,MG,7), ...rt(217,1163,['V',{sup:'23',sub:'13'},{t:'w/o -NR',dx:9,dy:2}],{ss:16,dsup:-10,dsub:12}));
G.push(seg(156,225,1228,BK,6), ...rt(232,1228,['V',{sup:'23',sub:'13'},{t:'w-NR',dx:8}],{ss:16,dsup:-10,dsub:12}));
G.push(seg(491,559,1074,LG,7), ...rt(566,1075,['V',{sup:'24',sub:'14'},{t:'measured',dx:4}],{ss:15,dsup:-9,dsub:10}));
G.push(seg(516,587,1117,MG,8), ...rt(592,1118,['V',{sup:'24',sub:'14'},{t:'w/o -NR',dx:2}],{ss:16,dsup:-11,dsub:10}));
G.push(seg(496,565,1237,BK,6), ...rt(569,1237,['V',{sup:'24',sub:'14'},{t:'w-NR',dx:6}],{ss:16,dsup:-10,dsub:12}));
G.push(seg(944,1012,1083,LG,7), ...rt(1020,1085,['V',{sup:'34',sub:'14'},{t:'measured',dx:4}],{ss:16,dsup:-12,dsub:10}));
G.push(seg(860,931,1158,MG,8), ...rt(939,1160,['V',{sup:'34',sub:'14'},{t:'w/o-NR',dx:6}],{ss:16,dsup:-12,dsub:10}));
G.push(seg(870,941,1230,BK,6), ...rt(949,1232,['V',{sup:'34',sub:'14'},{t:'w-NR',dx:6}],{ss:16,dsup:-12,dsub:10}));

const chart = echarts.init(document.getElementById('chart'), null, {renderer: 'svg', width: 1209, height: 1382});
chart.setOption({
  backgroundColor: '#fff',
  animation: false,
  textStyle: {fontFamily: FONT},
  grid: grids,
  xAxis: xAxes,
  yAxis: yAxes,
  series: series,
  graphic: {elements: G}
});
</script>
</body>
</html>
